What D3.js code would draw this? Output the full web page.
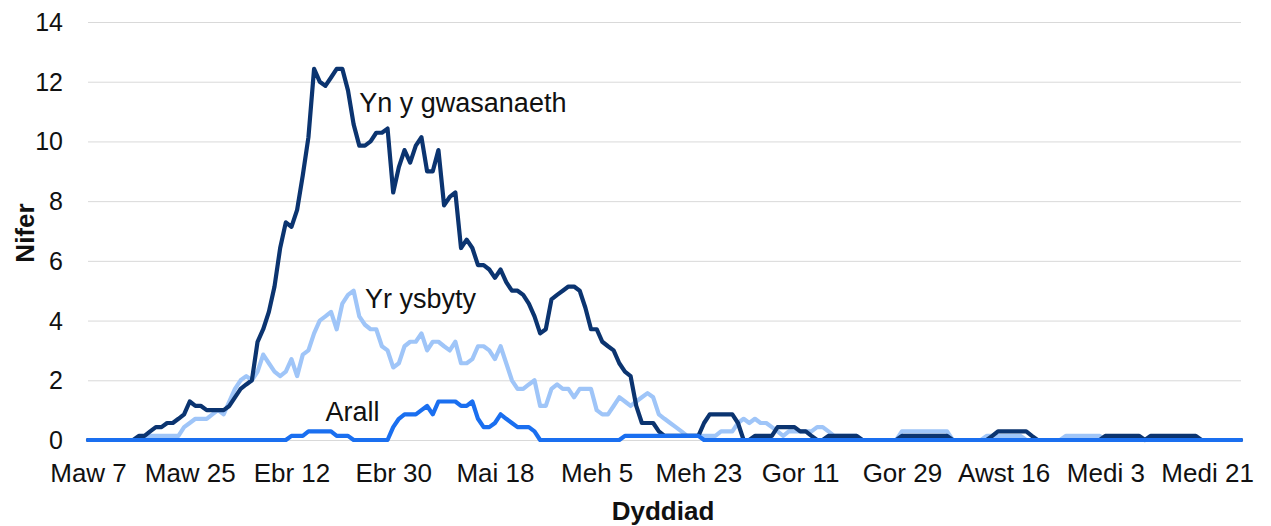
<!DOCTYPE html>
<html>
<head>
<meta charset="utf-8">
<script src="https://cdn.jsdelivr.net/npm/d3@7"></script>
<style>
  html, body { margin: 0; padding: 0; background: #fff; }
  svg { display: block; font-family: "Liberation Sans", Arial, sans-serif; }
</style>
</head>
<body>
<svg id="chart" width="1271" height="526"></svg>
<script>
// ---- DATA (7-day averages, one value per day starting at startDate) ----
const startDate = "2020-03-07";
const endDate = "2020-09-27";

const seriesNames = ["Yn y gwasanaeth", "Yr ysbyty", "Arall"];

const inService = [
  0,0,0,0,0,0,0,0,0,0.14,
  0.14,0.29,0.43,0.43,0.57,0.57,0.71,0.86,1.29,1.14,
  1.14,1.0,1.0,1.0,1.0,1.14,1.43,1.71,1.86,2.0,
  3.29,3.71,4.29,5.14,6.43,7.29,7.14,7.71,8.86,10.14,
  12.43,12.0,11.86,12.14,12.43,12.43,11.71,10.57,9.86,9.86,
  10.0,10.29,10.29,10.43,8.29,9.14,9.71,9.29,9.86,10.14,
  9.0,9.0,9.71,7.86,8.14,8.29,6.43,6.71,6.43,5.86,
  5.86,5.71,5.43,5.71,5.29,5.0,5.0,4.86,4.57,4.14,
  3.57,3.71,4.71,4.86,5.0,5.14,5.14,5.0,4.43,3.71,
  3.71,3.29,3.14,3.0,2.57,2.29,2.14,1.14,0.57,0.57,
  0.57,0.29,0.14,0.14,0.14,0.14,0.14,0.14,0.14,0.57,
  0.86,0.86,0.86,0.86,0.86,0.57,0,0,0.14,0.14,
  0.14,0.14,0.43,0.43,0.43,0.43,0.29,0.29,0.14,0,
  0,0.14,0.14,0.14,0.14,0.14,0.14,0,0,0,
  0,0,0,0,0.14,0.14,0.14,0.14,0.14,0.14,
  0.14,0.14,0.14,0,0,0,0,0,0,0,
  0.14,0.29,0.29,0.29,0.29,0.29,0.29,0.14,0,0,
  0,0,0,0,0,0,0,0,0,0,
  0.14,0.14,0.14,0.14,0.14,0.14,0.14,0,0.14,0.14,
  0.14,0.14,0.14,0.14,0.14,0.14,0.14,0,0,0,
  0,0,0,0,0
];

const hospital = [
  0,0,0,0,0,0,0,0,0,0,
  0.14,0.14,0.14,0.14,0.14,0.14,0.14,0.43,0.57,0.71,
  0.71,0.71,0.86,1.0,0.86,1.29,1.71,2.0,2.14,2.0,
  2.29,2.86,2.57,2.29,2.14,2.29,2.71,2.14,2.86,3.0,
  3.57,4.0,4.14,4.29,3.71,4.57,4.86,5.0,4.14,3.86,
  3.71,3.71,3.14,3.0,2.43,2.57,3.14,3.29,3.29,3.57,
  3.0,3.29,3.29,3.14,3.0,3.29,2.57,2.57,2.71,3.14,
  3.14,3.0,2.71,3.14,2.57,2.0,1.71,1.71,1.86,2.0,
  1.14,1.14,1.71,1.86,1.71,1.71,1.43,1.71,1.71,1.71,
  1.0,0.86,0.86,1.14,1.43,1.29,1.14,1.29,1.43,1.57,
  1.43,0.86,0.71,0.57,0.43,0.29,0.14,0.14,0.14,0.14,
  0.14,0.14,0.29,0.29,0.29,0.57,0.71,0.57,0.71,0.57,
  0.57,0.43,0.29,0.14,0.29,0.29,0.29,0.29,0.29,0.43,
  0.43,0.29,0.14,0.14,0.14,0.14,0.14,0,0,0,
  0,0,0,0,0.29,0.29,0.29,0.29,0.29,0.29,
  0.29,0.29,0.29,0,0,0,0,0,0,0.14,
  0.14,0.14,0.14,0.14,0.14,0.14,0,0,0,0,
  0,0,0,0.14,0.14,0.14,0.14,0.14,0.14,0.14,
  0,0,0,0,0,0,0,0,0,0,
  0,0,0,0,0,0,0,0,0,0,
  0,0,0,0,0
];

const other = [
  0,0,0,0,0,0,0,0,0,0,
  0,0,0,0,0,0,0,0,0,0,
  0,0,0,0,0,0,0,0,0,0,
  0,0,0,0,0,0,0.14,0.14,0.14,0.29,
  0.29,0.29,0.29,0.29,0.14,0.14,0.14,0,0,0,
  0,0,0,0,0.43,0.71,0.86,0.86,0.86,1.0,
  1.14,0.86,1.29,1.29,1.29,1.29,1.14,1.14,1.29,0.71,
  0.43,0.43,0.57,0.86,0.71,0.57,0.43,0.43,0.43,0.29,
  0,0,0,0,0,0,0,0,0,0,
  0,0,0,0,0,0.14,0.14,0.14,0.14,0.14,
  0.14,0.14,0.14,0.14,0.14,0.14,0.14,0.14,0.14,0,
  0,0,0,0,0,0,0,0,0,0,
  0,0,0,0,0,0,0,0,0,0,
  0,0,0,0,0,0,0,0,0,0,
  0,0,0,0,0,0,0,0,0,0,
  0,0,0,0,0,0,0,0,0,0,
  0,0,0,0,0,0,0,0,0,0,
  0,0,0,0,0,0,0,0,0,0,
  0,0,0,0,0,0,0,0,0,0,
  0,0,0,0,0,0,0,0,0,0,
  0,0,0,0,0
];

const xTickDates = ["2020-03-07","2020-03-25","2020-04-12","2020-04-30","2020-05-18","2020-06-05",
                    "2020-06-23","2020-07-11","2020-07-29","2020-08-16","2020-09-03","2020-09-21"];
const xTickLabels = ["Maw 7","Maw 25","Ebr 12","Ebr 30","Mai 18","Meh 5",
                     "Meh 23","Gor 11","Gor 29","Awst 16","Medi 3","Medi 21"];
const yTicks = [0, 2, 4, 6, 8, 10, 12, 14];

const xTitle = "Dyddiad";
const yTitle = "Nifer";

// ---- DRAWING ----
(function () {
const parse = d3.utcParse("%Y-%m-%d");
const start = parse(startDate);
const dayDate = i => d3.utcDay.offset(start, i);

const svg = d3.select("#chart");
const pLeft = 88, pRight = 1241, pTop = 22, pBottom = 440;
const textColor = "#111";
const fontSize = 26;

const x = d3.scaleUtc().domain([start, parse(endDate)]).range([pLeft, pRight]);
const y = d3.scaleLinear().domain([0, 14]).range([pBottom, pTop]);

// gridlines
svg.append("g")
  .selectAll("line")
  .data(yTicks)
  .join("line")
  .attr("x1", pLeft).attr("x2", pRight)
  .attr("y1", d => y(d) + 0.5).attr("y2", d => y(d) + 0.5)
  .attr("stroke", "#d9d9d9").attr("stroke-width", 1);

// y axis labels
const yAxis = d3.axisLeft(y).tickValues(yTicks).tickSize(0).tickPadding(0);
const gy = svg.append("g").attr("transform", `translate(63,0)`).call(yAxis);
gy.select(".domain").remove();
gy.selectAll("text").attr("font-size", 25).attr("fill", textColor)
  .attr("font-family", "Liberation Sans, Arial, sans-serif")
  .attr("dy", "0.34em");

// x axis labels
const xAxis = d3.axisBottom(x).tickValues(xTickDates.map(parse))
  .tickFormat((d, i) => xTickLabels[i]).tickSize(0).tickPadding(0);
const gx = svg.append("g").attr("transform", `translate(0,${pBottom})`).call(xAxis);
gx.select(".domain").remove();
gx.selectAll("text").attr("font-size", fontSize).attr("fill", textColor)
  .attr("font-family", "Liberation Sans, Arial, sans-serif")
  .attr("y", 42).attr("dy", 0);

// lines
const line = d3.line().x((d, i) => x(dayDate(i))).y(d => y(d)).curve(d3.curveLinear);
const drawOrder = [
  { data: hospital, color: "#9fc5f8" },
  { data: inService, color: "#0b3470" },
  { data: other, color: "#1a6ff0" }
];
svg.append("g").selectAll("path")
  .data(drawOrder)
  .join("path")
  .attr("d", d => line(d.data))
  .attr("fill", "none")
  .attr("stroke", d => d.color)
  .attr("stroke-width", 4.2)
  .attr("stroke-linejoin", "round")
  .attr("stroke-linecap", "round");

// series labels
const labels = [
  { text: seriesNames[0], dx: 48.7, v: 10.98 },
  { text: seriesNames[1], dx: 49.6, v: 4.42 },
  { text: seriesNames[2], dx: 42.5, v: 0.62 }
];
svg.append("g").selectAll("text")
  .data(labels)
  .join("text")
  .attr("x", d => x(dayDate(d.dx)))
  .attr("y", d => y(d.v))
  .attr("font-size", 27)
  .attr("fill", textColor)
  .text(d => d.text);

// axis titles
svg.append("text")
  .attr("x", 663).attr("y", 520)
  .attr("text-anchor", "middle")
  .attr("font-size", fontSize).attr("font-weight", "bold").attr("fill", textColor)
  .text(xTitle);

svg.append("text")
  .attr("transform", `translate(34,${(pTop + pBottom) / 2 + 2}) rotate(-90)`)
  .attr("text-anchor", "middle")
  .attr("font-size", fontSize).attr("font-weight", "bold").attr("fill", textColor)
  .text(yTitle);
})();
</script>
</body>
</html>
